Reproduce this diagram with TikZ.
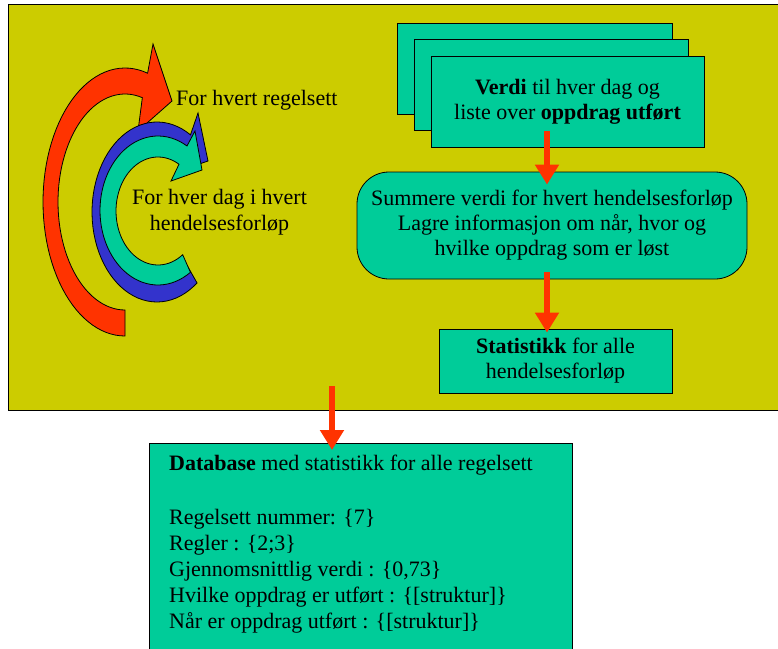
\documentclass[tikz,border=0pt]{standalone}
\usepackage{fontspec}
\setmainfont{Liberation Serif}
\usetikzlibrary{arrows.meta,calc}
\definecolor{bgolive}{RGB}{204,204,0}
\definecolor{boxgreen}{RGB}{0,204,153}
\definecolor{arrowred}{RGB}{255,51,0}
\definecolor{arrowblue}{RGB}{51,51,204}
\begin{document}
\begin{tikzpicture}[x=1pt,y=-1pt,
  gbox/.style={draw=black, line width=0.8pt, fill=boxgreen, inner sep=0pt, align=center, font=\fontsize{22}{25}\selectfont},
  txt/.style={font=\fontsize{22}{26}\selectfont, inner sep=0pt},
  redarrow/.style={draw=arrowred, line width=6pt, -{Triangle[width=23pt,length=20pt]}},
  curved/.style={draw=black, line width=0.8pt, line join=miter}]
\useasboundingbox (0,0) rectangle (778,648);
% frame
\node[draw=black, line width=1.2pt, fill=bgolive, minimum width=790pt, minimum height=406pt, anchor=north west, inner sep=0pt] (frame) at (8,4) {};
% curved arrows
\filldraw[curved, fill=arrowred]
  plot[domain=90:286, samples=60] ({125+82*cos(\x)},{202+134*sin(\x)})
  -- (153,44) -- (172,101) -- (138,131)
  -- plot[domain=285:90, samples=60] ({125+67*cos(\x)},{202+108*sin(\x)}) -- cycle;
\filldraw[curved, fill=arrowblue]
  plot[domain=52:301, samples=60] ({157+65*cos(\x)},{212+90*sin(\x)})
  -- (198,113) -- (208,161) -- (182,170)
  -- plot[domain=300:55, samples=60] ({158+52*cos(\x)},{211+68*sin(\x)}) -- cycle;
\filldraw[curved, fill=boxgreen]
  plot[domain=56:300, samples=60] ({158+58*cos(\x)},{210.5+74.5*sin(\x)})
  -- (195,131) -- (202,170) -- (171,181)
  -- plot[domain=300:54, samples=60] ({158+42*cos(\x)},{211+54*sin(\x)}) -- cycle;
\node[txt, anchor=base west] (l1) at (176,105) {For hvert regelsett};
\node[txt, align=center] (l2) at (219.5,212) {For hver dag i hvert\\hendelsesforløp};
% stacked boxes
\node[gbox, minimum width=275pt, minimum height=91pt] (b1) at (534.5,68.5) {};
\node[gbox, minimum width=274pt, minimum height=91pt] (b2) at (551,84.5) {};
\node[gbox, minimum width=273pt, minimum height=91pt] (b3) at (567.5,101.5) {\textbf{Verdi} til hver dag og\\liste over \textbf{oppdrag utført}};
\node[gbox, rounded corners=32pt, minimum width=390pt, minimum height=107pt] (sum) at (552,225.5) {Summere verdi for hvert hendelsesforløp\\Lagre informasjon om når, hvor og\\hvilke oppdrag som er løst};
\node[gbox, minimum width=233pt, minimum height=64pt] (stat) at (555.5,361) {\textbf{Statistikk} for alle\\hendelsesforløp};
% database
\node[draw=black, line width=0.8pt, fill=boxgreen, minimum width=423pt, minimum height=220pt, anchor=north west, inner sep=0pt] (db) at (149,443) {};
\node[txt, anchor=north west, align=left] (dbt) at ($(db.north west)+(20,12)$) {\textbf{Database} med statistikk for alle regelsett\\[28pt]Regelsett nummer: \{7\}\\Regler : \{2;3\}\\Gjennomsnittlig verdi : \{0,73\}\\Hvilke oppdrag er utført : \{[struktur]\}\\Når er oppdrag utført : \{[struktur]\}};
% straight arrows
\path (b3.south) ++(-20.5,-16) coordinate (a1s);
\draw[redarrow] (a1s) -- ($(a1s |- sum.north)+(0,13)$);
\path (sum.south) ++(-5,-7) coordinate (a2s);
\draw[redarrow] (a2s) -- ($(a2s |- stat.north)+(0,4)$);
\path (frame.south west) ++(324,-25) coordinate (a3s);
\draw[redarrow] (a3s) -- ($(a3s |- db.north)+(0,7)$);
\end{tikzpicture}
\end{document}
